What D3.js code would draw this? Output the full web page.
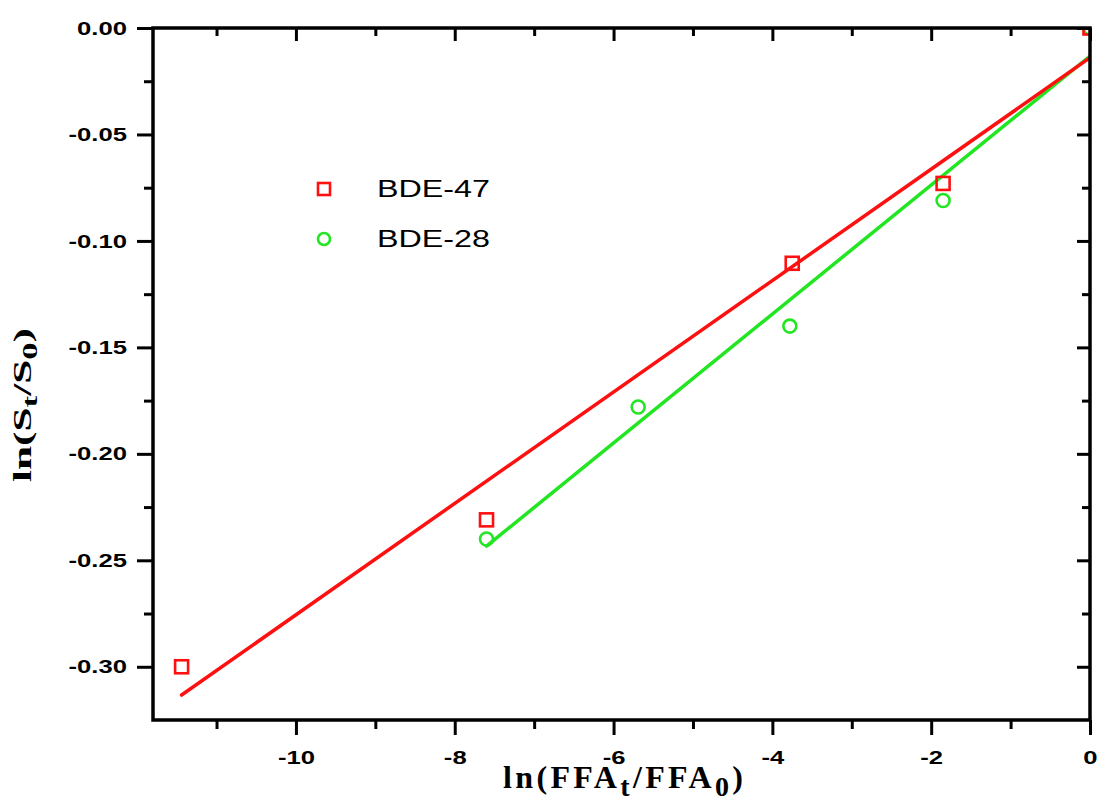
<!DOCTYPE html>
<html>
<head>
<meta charset="utf-8">
<script src="https://cdn.jsdelivr.net/npm/d3@7"></script>
<style>
  html, body { margin: 0; padding: 0; background: #fff; }
  svg { display: block; }
  .tick-label { font-family: "Liberation Sans", Arial, sans-serif; font-weight: bold; font-size: 19px; fill: #000; }
  .axis-title { font-family: "Liberation Serif", "Times New Roman", serif; font-weight: bold; fill: #000; }
  .legend-text { font-family: "Liberation Sans", Arial, sans-serif; font-size: 24px; fill: #000; }
</style>
</head>
<body>
<svg id="chart" width="1097" height="803"></svg>
<script>
// ln(FFA_t/FFA_0) values and ln(S_t/S_0) values for each congener
const bde47X = [-11.44, -7.60, -3.75, -1.85, 0];
const bde47Y = [-0.300, -0.231, -0.1105, -0.073, 0];
const bde28X = [-7.60, -5.69, -3.78, -1.85, 0];
const bde28Y = [-0.240, -0.178, -0.140, -0.081, 0];

const seriesNames = ["BDE-47", "BDE-28"];
const seriesColors = ["#ff1010", "#22e622"];

const xMajorTicks = [-10, -8, -6, -4, -2, 0];
const xMinorTicks = [-11, -9, -7, -5, -3, -1];
const yMajorTicks = [0.00, -0.05, -0.10, -0.15, -0.20, -0.25, -0.30];
const yMinorTicks = [-0.025, -0.075, -0.125, -0.175, -0.225, -0.275];

const xDomain = [-11.8, 0];
const yDomain = [-0.325, 0];

const svg = d3.select("#chart");
const plot = { left: 153, right: 1090, top: 28, bottom: 720 };

const x = d3.scaleLinear().domain(xDomain).range([plot.left, plot.right]);
const y = d3.scaleLinear().domain(yDomain).range([plot.bottom, plot.top]);

// least-squares line through a series
function fit(xs, ys) {
  const mx = d3.mean(xs), my = d3.mean(ys);
  let sxy = 0, sxx = 0;
  xs.forEach((v, i) => { sxy += (v - mx) * (ys[i] - my); sxx += (v - mx) * (v - mx); });
  const slope = sxy / sxx;
  const icpt = my - slope * mx;
  const [x0, x1] = d3.extent(xs);
  return [{ x: x0, y: slope * x0 + icpt }, { x: x1, y: slope * x1 + icpt }];
}

const series = [
  { name: seriesNames[0], color: seriesColors[0], xs: bde47X, ys: bde47Y, shape: "square" },
  { name: seriesNames[1], color: seriesColors[1], xs: bde28X, ys: bde28Y, shape: "circle" }
];

svg.append("defs").append("clipPath").attr("id", "plot-clip")
  .append("rect")
  .attr("x", plot.left).attr("y", plot.top)
  .attr("width", plot.right - plot.left).attr("height", plot.bottom - plot.top);

const body = svg.append("g").attr("clip-path", "url(#plot-clip)");

// fitted lines (green first so red sits on top)
const lineGen = d3.line().x(d => x(d.x)).y(d => y(d.y));
[series[1], series[0]].forEach(s => {
  body.append("path")
    .datum(fit(s.xs, s.ys))
    .attr("d", lineGen)
    .attr("fill", "none")
    .attr("stroke", s.color)
    .attr("stroke-width", 3.5)
    .attr("stroke-linecap", "round");
});

// markers
function drawMarker(g, shape, cx, cy, color, size) {
  if (shape === "square") {
    g.append("rect")
      .attr("x", cx - size / 2).attr("y", cy - size / 2)
      .attr("width", size).attr("height", size)
      .attr("fill", "none").attr("stroke", color).attr("stroke-width", 2.6);
  } else {
    g.append("circle")
      .attr("cx", cx).attr("cy", cy).attr("r", size / 2)
      .attr("fill", "none").attr("stroke", color).attr("stroke-width", 2.6);
  }
}
[series[1], series[0]].forEach(s => {
  s.xs.forEach((v, i) => drawMarker(body, s.shape, x(v), y(s.ys[i]), s.color, 13));
});

// axes — labels use a plain hyphen for negatives
const labelScale = 1.35;
const hyphen = f => d => f(d).replace("\u2212", "-");
const fmtX = hyphen(d3.format("d"));
const fmtY = hyphen(d3.format(".2f"));

// bottom axis
const xAxisMajor = d3.axisBottom(x).tickValues(xMajorTicks).tickSize(15).tickPadding(16).tickFormat(fmtX);
const xAxisMinor = d3.axisBottom(x).tickValues(xMinorTicks).tickSize(9).tickFormat("");
svg.append("g").attr("transform", `translate(0,${plot.bottom})`).call(xAxisMinor);
const gx = svg.append("g").attr("transform", `translate(0,${plot.bottom})`).call(xAxisMajor);
gx.selectAll("text").attr("class", "tick-label").attr("transform", `scale(${labelScale},1)`)
  .attr("x", 0).attr("dy", "0.71em");

// left axis
const yAxisMajor = d3.axisLeft(y).tickValues(yMajorTicks).tickSize(16).tickPadding(10).tickFormat(fmtY);
const yAxisMinor = d3.axisLeft(y).tickValues(yMinorTicks).tickSize(9).tickFormat("");
svg.append("g").attr("transform", `translate(${plot.left},0)`).call(yAxisMinor);
const gy = svg.append("g").attr("transform", `translate(${plot.left},0)`).call(yAxisMajor);
gy.selectAll("text").attr("class", "tick-label")
  .attr("transform", `scale(${labelScale},1)`)
  .attr("x", -26 / labelScale);

// top axis (inward ticks, no labels)
svg.append("g").attr("transform", `translate(0,${plot.top})`)
  .call(d3.axisBottom(x).tickValues(xMajorTicks).tickSize(13).tickFormat(""));
svg.append("g").attr("transform", `translate(0,${plot.top})`)
  .call(d3.axisBottom(x).tickValues(xMinorTicks).tickSize(8).tickFormat(""));

// right axis (inward ticks, no labels)
svg.append("g").attr("transform", `translate(${plot.right},0)`)
  .call(d3.axisLeft(y).tickValues(yMajorTicks).tickSize(13).tickFormat(""));
svg.append("g").attr("transform", `translate(${plot.right},0)`)
  .call(d3.axisLeft(y).tickValues(yMinorTicks).tickSize(8).tickFormat(""));

svg.selectAll(".domain").remove();
svg.selectAll(".tick line").attr("stroke", "#000").attr("stroke-width", 3);

// frame
svg.append("rect")
  .attr("x", plot.left).attr("y", plot.top)
  .attr("width", plot.right - plot.left).attr("height", plot.bottom - plot.top)
  .attr("fill", "none").attr("stroke", "#000").attr("stroke-width", 3.5);

// x axis title
const xt = svg.append("text").attr("class", "axis-title")
  .attr("x", 503).attr("y", 788)
  .attr("font-size", 32)
  .attr("textLength", 240).attr("lengthAdjust", "spacing");
xt.append("tspan").text("ln(FFA");
xt.append("tspan").attr("font-size", 28).attr("dy", 8).text("t");
xt.append("tspan").attr("dy", -8).text("/FFA");
xt.append("tspan").attr("font-size", 28).attr("dy", 8).text("0");
xt.append("tspan").attr("dy", -8).text(")");

// y axis title
const yt = svg.append("text").attr("class", "axis-title")
  .attr("transform", "translate(31,482) rotate(-90)")
  .attr("font-size", 25)
  .attr("textLength", 154).attr("lengthAdjust", "spacingAndGlyphs");
yt.append("tspan").text("ln(S");
yt.append("tspan").attr("font-size", 20).attr("dy", 6).text("t");
yt.append("tspan").attr("dy", -6).text("/S");
yt.append("tspan").attr("font-size", 20).attr("dy", 6).text("0");
yt.append("tspan").attr("dy", -6).text(")");

// legend
const legend = svg.append("g");
series.forEach((s, i) => {
  const cy = 189 + i * 50;
  drawMarker(legend, s.shape, 324, cy, s.color, 12);
  legend.append("text").attr("class", "legend-text")
    .attr("x", 377).attr("y", cy + 8)
    .attr("textLength", 113).attr("lengthAdjust", "spacingAndGlyphs")
    .text(s.name);
});
</script>
</body>
</html>
